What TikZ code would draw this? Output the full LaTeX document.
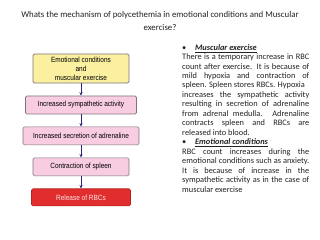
\documentclass[tikz,border=0pt]{standalone}
\usepackage{fontspec}
\setmainfont{Carlito}
\newfontfamily\boxfont[FakeStretch=0.86]{Liberation Sans}
\usepackage{xcolor}
\definecolor{boxyellow}{RGB}{250, 240, 160}
\definecolor{boxpink}{RGB}{248, 205, 225}
\definecolor{rbcred}{RGB}{225, 45, 45}
\definecolor{boxgrey}{RGB}{125, 115, 125}
\definecolor{arrownavy}{RGB}{45, 40, 120}
\definecolor{textdark}{RGB}{35, 35, 35}
\usetikzlibrary{positioning, arrows.meta}

\newcommand{\bulletitem}[1]{\makebox[11pt][l]{\textbullet}\textbf{\textit{\underline{#1}}}}

\begin{document}
\begin{tikzpicture}[x=0.85pt, y=-0.85pt, node distance=10.5pt, >={Stealth[length=3pt, width=2.6pt]},
    flowbox/.style={draw=boxgrey, line width=0.5pt, rounded corners=1.2pt, align=center, inner sep=1pt, minimum height=15.3pt, font=\boxfont\fontsize{6.4}{7.6}\selectfont},
    flowarrow/.style={->, line width=0.6pt, arrownavy}]
    \fill [white] (0,0) rectangle (320,240);
    \useasboundingbox (0,0) rectangle (320,240);

    \node [font=\fontsize{7.5}{11}\selectfont, text=textdark, align=center] (title) at (160,21) {Whats the mechanism of polycethemia in emotional conditions and Muscular\\exercise?};

    \node [flowbox, fill=boxyellow, minimum width=81.6pt, minimum height=24.7pt] (emot) at (81,68.5) {Emotional conditions\\and\\muscular exercise};
    \node [flowbox, fill=boxpink, minimum width=94.4pt, below=of emot] (symp) {Increased sympathetic activity};
    \node [flowbox, fill=boxpink, minimum width=98.6pt, below=of symp] (adren) {Increased secretion of adrenaline};
    \node [flowbox, fill=boxpink, minimum width=81.6pt, below=of adren] (spleen) {Contraction of spleen};
    \node [flowbox, fill=rbcred, draw=rbcred!80!black, text=white!88!rbcred, minimum width=84.2pt, minimum height=14.5pt, below=of spleen] (rbc) {Release of RBCs};

    \draw [flowarrow] (emot) -- (symp);
    \draw [flowarrow] (symp) -- (adren);
    \draw [flowarrow] (adren) -- (spleen);
    \draw [flowarrow] (spleen) -- (rbc);

    % explanation on the right
    \node [anchor=north west, inner sep=0pt, text width=108pt, align=justify, text=textdark, font=\fontsize{7.1}{8.05}\selectfont] (notes) at (182,44) {\parindent=0pt
        \bulletitem{Muscular exercise}\par
        There is a temporary increase in RBC\linebreak
        count after exercise. It is because of\linebreak
        mild hypoxia and contraction of\linebreak
        spleen. Spleen stores RBCs. Hypoxia\par
        increases the sympathetic activity\linebreak
        resulting in secretion of adrenaline\linebreak
        from adrenal medulla. Adrenaline\linebreak
        contracts spleen and RBCs are\linebreak
        released into blood.\par
        \bulletitem{Emotional conditions}\par
        RBC count increases during the\linebreak
        emotional conditions such as anxiety.\linebreak
        It is because of increase in the\linebreak
        sympathetic activity as in the case of\linebreak
        muscular exercise\par};
\end{tikzpicture}
\end{document}
